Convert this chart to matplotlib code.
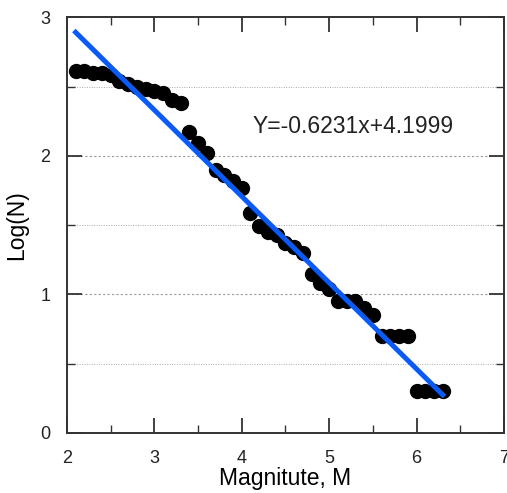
import matplotlib.pyplot as plt
from matplotlib.ticker import MultipleLocator

# magnitude bins and log10 of cumulative counts
magnitude = [2.1, 2.2, 2.3, 2.4, 2.5, 2.6, 2.7, 2.8, 2.9, 3.0,
             3.1, 3.2, 3.3, 3.4, 3.5, 3.6, 3.7, 3.8, 3.9, 4.0,
             4.1, 4.2, 4.3, 4.4, 4.5, 4.6, 4.7, 4.8, 4.9, 5.0,
             5.1, 5.2, 5.3, 5.4, 5.5, 5.6, 5.7, 5.8, 5.9, 6.0,
             6.1, 6.2, 6.3]
log_n = [2.61, 2.61, 2.60, 2.60, 2.58, 2.54, 2.52, 2.50, 2.48, 2.47,
         2.45, 2.40, 2.38, 2.17, 2.09, 2.02, 1.90, 1.86, 1.82, 1.77,
         1.59, 1.49, 1.45, 1.43, 1.37, 1.34, 1.30, 1.15, 1.08, 1.04,
         0.95, 0.95, 0.95, 0.90, 0.85, 0.70, 0.70, 0.70, 0.70, 0.30,
         0.30, 0.30, 0.30]
slope = -0.6231
intercept = 4.1999
fit_x = [2.1, 6.3]

plt.rcParams['font.family'] = ['Liberation Sans', 'DejaVu Sans']

fig = plt.figure(figsize=(5.07, 4.93), dpi=100)
ax = fig.add_axes([0.132, 0.122, 0.862, 0.843])

ax.plot(magnitude, log_n, 'o', color='black', markersize=10, zorder=3)
fit_y = [slope * x + intercept for x in fit_x]
ax.plot(fit_x, fit_y, color='#0a5af5', linewidth=3.6, zorder=4)

ax.text(0.425, 0.736, 'Y=-0.6231x+4.1999', transform=ax.transAxes,
        fontsize=16.5, color='#222222', va='center')

ax.set_xlim(2, 7)
ax.set_ylim(0, 3)
ax.xaxis.set_major_locator(MultipleLocator(1))
ax.xaxis.set_minor_locator(MultipleLocator(0.5))
ax.yaxis.set_major_locator(MultipleLocator(1))
ax.yaxis.set_minor_locator(MultipleLocator(0.5))

# grid: dashed at integers, dotted at halves
for yv in [1, 2]:
    ax.axhline(yv, color='#999999', linestyle=(0, (2, 2)), linewidth=0.8, zorder=1)
for yv in [0.5, 1.5, 2.5]:
    ax.axhline(yv, color='#aaaaaa', linestyle=(0, (1, 1.5)), linewidth=0.7, zorder=1)

ax.tick_params(which='both', direction='in', top=True, right=True,
               colors='#333333', labelcolor='#222222', labelsize=13)
ax.tick_params(which='major', length=11, width=1.3, pad=12)
ax.tick_params(which='minor', length=6, width=1.0)
for s in ax.spines.values():
    s.set_color('#333333')
    s.set_linewidth(1.4)

ax.set_xlabel('Magnitute, M', fontsize=16.5, labelpad=0)
ax.set_ylabel('Log(N)', fontsize=16.5, labelpad=9)

fig.savefig('out.png', dpi=100)
